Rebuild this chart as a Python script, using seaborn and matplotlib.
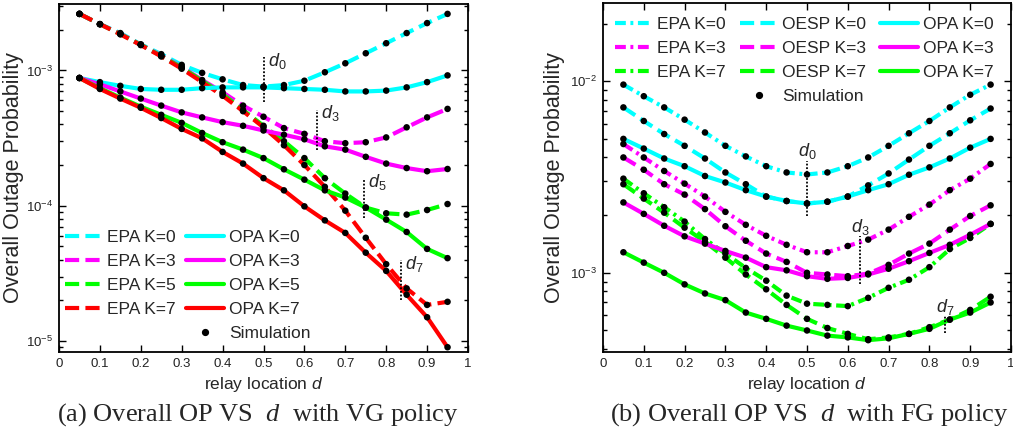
import matplotlib
matplotlib.use("Agg")
import matplotlib.pyplot as plt
from matplotlib.lines import Line2D
from matplotlib.ticker import FixedLocator, NullFormatter
import seaborn as sns

# --- relay locations (x) ---
d_vals = [0.05, 0.10, 0.15, 0.20, 0.25, 0.30, 0.35, 0.40, 0.45, 0.50,
          0.55, 0.60, 0.65, 0.70, 0.75, 0.80, 0.85, 0.90, 0.95]
x_ticks = [0, 0.1, 0.2, 0.3, 0.4, 0.5, 0.6, 0.7, 0.8, 0.9, 1]
x_ticklabels = ["0", "0.1", "0.2", "0.3", "0.4", "0.5", "0.6", "0.7", "0.8", "0.9", "1"]

# --- (a) VG policy ---
vg_epa_k0 = [2.62e-3, 2.20e-3, 1.89e-3, 1.56e-3, 1.32e-3, 1.10e-3, 9.6e-4, 8.6e-4, 7.8e-4, 7.6e-4,
             7.8e-4, 8.4e-4, 9.7e-4, 1.13e-3, 1.34e-3, 1.59e-3, 1.89e-3, 2.24e-3, 2.62e-3]
vg_epa_k3 = [2.62e-3, 2.20e-3, 1.87e-3, 1.55e-3, 1.29e-3, 1.06e-3, 8.5e-4, 6.9e-4, 5.5e-4, 4.55e-4,
             3.75e-4, 3.4e-4, 3.0e-4, 2.9e-4, 2.95e-4, 3.2e-4, 3.8e-4, 4.5e-4, 5.2e-4]
vg_epa_k5 = [2.62e-3, 2.20e-3, 1.86e-3, 1.55e-3, 1.28e-3, 1.05e-3, 8.4e-4, 6.7e-4, 5.1e-4, 3.9e-4,
             3.0e-4, 2.25e-4, 1.6e-4, 1.23e-4, 9.7e-5, 8.8e-5, 8.6e-5, 9.3e-5, 1.03e-4]
vg_epa_k7 = [2.62e-3, 2.20e-3, 1.85e-3, 1.54e-3, 1.27e-3, 1.03e-3, 8.2e-4, 6.5e-4, 5.0e-4, 3.8e-4,
             2.8e-4, 2.0e-4, 1.38e-4, 9.2e-5, 5.8e-5, 3.7e-5, 2.45e-5, 1.85e-5, 1.95e-5]
vg_opa_k0 = [8.8e-4, 8.2e-4, 7.7e-4, 7.3e-4, 7.2e-4, 7.2e-4, 7.4e-4, 7.5e-4, 7.5e-4, 7.5e-4,
             7.4e-4, 7.3e-4, 7.2e-4, 7.0e-4, 7.0e-4, 7.1e-4, 7.5e-4, 8.2e-4, 9.2e-4]
vg_opa_k3 = [8.8e-4, 7.9e-4, 7.0e-4, 6.2e-4, 5.5e-4, 4.9e-4, 4.5e-4, 4.15e-4, 3.9e-4, 3.6e-4,
             3.35e-4, 3.1e-4, 2.75e-4, 2.6e-4, 2.3e-4, 2.05e-4, 1.9e-4, 1.8e-4, 1.87e-4]
vg_opa_k5 = [8.8e-4, 7.4e-4, 6.3e-4, 5.4e-4, 4.7e-4, 4.1e-4, 3.45e-4, 2.95e-4, 2.6e-4, 2.25e-4,
             1.86e-4, 1.56e-4, 1.3e-4, 1.15e-4, 9.7e-5, 7.9e-5, 6.4e-5, 4.8e-5, 4.1e-5]
vg_opa_k7 = [8.8e-4, 7.3e-4, 6.2e-4, 5.3e-4, 4.45e-4, 3.7e-4, 3.15e-4, 2.5e-4, 2.05e-4, 1.6e-4,
             1.3e-4, 9.9e-5, 7.8e-5, 6.3e-5, 4.5e-5, 3.3e-5, 2.2e-5, 1.5e-5, 9.0e-6]
# optimal relay locations d_K and the span of the dotted marker
vg_dopt = [0.50, 0.63, 0.745, 0.836]
vg_dopt_top = [1.25e-3, 5.1e-4, 1.59e-4, 3.95e-5]
vg_dopt_bot = [5.8e-4, 2.57e-4, 8.1e-5, 2.02e-5]
vg_dopt_names = ["0", "3", "5", "7"]

# --- (b) FG policy ---
fg_epa_k0 = [9.6e-3, 8.35e-3, 7.3e-3, 6.3e-3, 5.4e-3, 4.6e-3, 4.05e-3, 3.6e-3, 3.34e-3, 3.26e-3,
             3.34e-3, 3.6e-3, 4.0e-3, 4.6e-3, 5.35e-3, 6.2e-3, 7.3e-3, 8.5e-3, 9.6e-3]
fg_oesp_k0 = [7.3e-3, 6.2e-3, 5.3e-3, 4.6e-3, 3.95e-3, 3.34e-3, 2.9e-3, 2.5e-3, 2.37e-3, 2.3e-3,
              2.35e-3, 2.5e-3, 2.86e-3, 3.3e-3, 3.9e-3, 4.6e-3, 5.35e-3, 6.25e-3, 7.2e-3]
fg_opa_k0 = [5.0e-3, 4.45e-3, 3.95e-3, 3.6e-3, 3.2e-3, 2.96e-3, 2.7e-3, 2.5e-3, 2.37e-3, 2.3e-3,
             2.35e-3, 2.5e-3, 2.7e-3, 2.9e-3, 3.25e-3, 3.55e-3, 3.95e-3, 4.5e-3, 5.0e-3]
fg_epa_k3 = [4.7e-3, 4.0e-3, 3.4e-3, 2.92e-3, 2.5e-3, 2.08e-3, 1.78e-3, 1.56e-3, 1.4e-3, 1.28e-3,
             1.28e-3, 1.38e-3, 1.49e-3, 1.68e-3, 1.96e-3, 2.27e-3, 2.7e-3, 3.1e-3, 3.7e-3]
fg_oesp_k3 = [4.0e-3, 3.45e-3, 2.9e-3, 2.56e-3, 2.15e-3, 1.75e-3, 1.47e-3, 1.26e-3, 1.14e-3, 1.0e-3,
              9.8e-4, 9.6e-4, 9.9e-4, 1.1e-3, 1.26e-3, 1.42e-3, 1.68e-3, 1.98e-3, 2.25e-3]
fg_opa_k3 = [2.33e-3, 2.03e-3, 1.76e-3, 1.55e-3, 1.42e-3, 1.3e-3, 1.2e-3, 1.07e-3, 1.03e-3, 9.6e-4,
             9.3e-4, 9.4e-4, 9.8e-4, 1.05e-3, 1.15e-3, 1.27e-3, 1.4e-3, 1.58e-3, 1.8e-3]
fg_epa_k7 = [3.1e-3, 2.6e-3, 2.2e-3, 1.85e-3, 1.5e-3, 1.26e-3, 1.06e-3, 9.1e-4, 7.6e-4, 6.9e-4,
             6.8e-4, 6.7e-4, 7.4e-4, 8.35e-4, 9.2e-4, 1.07e-3, 1.33e-3, 1.52e-3, 1.8e-3]
fg_oesp_k7 = [2.9e-3, 2.44e-3, 2.06e-3, 1.72e-3, 1.45e-3, 1.2e-3, 9.8e-4, 8.2e-4, 6.8e-4, 5.75e-4,
              5.15e-4, 4.8e-4, 4.5e-4, 4.6e-4, 4.8e-4, 5.2e-4, 5.7e-4, 6.4e-4, 7.5e-4]
fg_opa_k7 = [1.28e-3, 1.13e-3, 1.0e-3, 8.7e-4, 7.8e-4, 7.2e-4, 6.2e-4, 5.75e-4, 5.3e-4, 5.0e-4,
             4.7e-4, 4.6e-4, 4.45e-4, 4.55e-4, 4.8e-4, 5.1e-4, 5.7e-4, 6.2e-4, 7.0e-4]
fg_dopt = [0.50, 0.63, 0.838]
fg_dopt_top = [3.85e-3, 1.56e-3, 5.96e-4]
fg_dopt_bot = [1.99e-3, 8.75e-4, 4.85e-4]
fg_dopt_names = ["0", "3", "7"]

# --- style ---
sns.set_style("ticks")
plt.rcParams['font.family'] = ['Liberation Sans', 'DejaVu Sans']
plt.rcParams['mathtext.fontset'] = 'custom'
plt.rcParams['mathtext.rm'] = 'Liberation Sans'
plt.rcParams['mathtext.it'] = 'Liberation Sans:italic'
plt.rcParams['mathtext.cal'] = 'Liberation Serif:italic'

CYAN, MAGENTA, GREEN, RED = '#00FFFF', '#FF00FF', '#00FF00', '#FF0000'
DASH = (0, (3.4, 1.5))
DASHDOT = (0, (2.6, 1.1, 0.7, 1.1))
SOLID = '-'
LW = 3


def draw_curve(ax, y, color, ls):
    sns.lineplot(x=d_vals, y=y, ax=ax, color=color, lw=LW, linestyle=ls, zorder=2)
    sns.scatterplot(x=d_vals, y=y, ax=ax, color='k', s=22, edgecolor='none', zorder=4)


def handle(color, ls):
    return Line2D([], [], color=color, lw=LW, linestyle=ls)


sim_handle = Line2D([], [], color='k', marker='o', markersize=4.2, linestyle='none')
blank = Line2D([], [], color='none')

fig = plt.figure(figsize=(10.13, 4.34), dpi=100)
ax1 = fig.add_axes([59 / 1013, 82 / 434, 409 / 1013, 348 / 434])
ax2 = fig.add_axes([603 / 1013, 82 / 434, 408 / 1013, 349 / 434])

# (a)
for y, c in [(vg_epa_k0, CYAN), (vg_epa_k3, MAGENTA), (vg_epa_k5, GREEN), (vg_epa_k7, RED)]:
    draw_curve(ax1, y, c, DASH)
for y, c in [(vg_opa_k0, CYAN), (vg_opa_k3, MAGENTA), (vg_opa_k5, GREEN), (vg_opa_k7, RED)]:
    draw_curve(ax1, y, c, SOLID)

# (b)
for y, c in [(fg_epa_k0, CYAN), (fg_epa_k3, MAGENTA), (fg_epa_k7, GREEN)]:
    draw_curve(ax2, y, c, DASHDOT)
for y, c in [(fg_oesp_k0, CYAN), (fg_oesp_k3, MAGENTA), (fg_oesp_k7, GREEN)]:
    draw_curve(ax2, y, c, DASH)
for y, c in [(fg_opa_k0, CYAN), (fg_opa_k3, MAGENTA), (fg_opa_k7, GREEN)]:
    draw_curve(ax2, y, c, SOLID)

for ax in (ax1, ax2):
    ax.set_yscale('log')
    ax.set_xlim(0, 1)
    ax.xaxis.set_major_locator(FixedLocator(x_ticks))
    ax.set_xticklabels(x_ticklabels)
    ax.yaxis.set_minor_formatter(NullFormatter())
    ax.tick_params(which='both', direction='in', top=True, right=True, labelsize=9.5,
                   width=1, color='k', labelcolor='#222222')
    ax.tick_params(which='major', length=5, pad=4)
    ax.tick_params(which='minor', length=3)
    for s in ax.spines.values():
        s.set_linewidth(1.3)
        s.set_color('k')
    ax.set_xlabel("relay location $\\mathit{d}$", fontsize=12.5)
    ax.set_ylabel("Overall Outage Probability", fontsize=15.5)

ax1.set_ylim(8.3e-6, 3.1e-3)
ax2.set_ylim(3.86e-4, 2.56e-2)
ax1.xaxis.set_label_coords(0.5, -0.065)
ax2.xaxis.set_label_coords(0.5, -0.065)
ax1.yaxis.set_label_coords(-0.085, 0.5)
ax2.yaxis.set_label_coords(-0.092, 0.5)

# optimal-location markers
for x, yt, yb, k in zip(vg_dopt, vg_dopt_top, vg_dopt_bot, vg_dopt_names):
    ax1.plot([x, x], [yb, yt], color='k', lw=1.3, linestyle=(0, (1, 1)), zorder=5)
    ax1.annotate("$\\mathit{d}_{\\mathit{%s}}$" % k, xy=(x, yt), xytext=(3, -6),
                 textcoords='offset points', ha='left', va='baseline', fontsize=13)
for x, yt, yb, k in zip(fg_dopt, fg_dopt_top, fg_dopt_bot, fg_dopt_names):
    ax2.plot([x, x], [yb, yt], color='k', lw=1.3, linestyle=(0, (1, 1)), zorder=5)
    ax2.annotate("$\\mathit{d}_{\\mathit{%s}}$" % k, xy=(x, yt), xytext=(0, 3),
                 textcoords='offset points', ha='center', va='baseline', fontsize=13)

# legends
leg1_handles = [handle(CYAN, DASH), handle(MAGENTA, DASH), handle(GREEN, DASH), handle(RED, DASH), blank,
                handle(CYAN, SOLID), handle(MAGENTA, SOLID), handle(GREEN, SOLID), handle(RED, SOLID),
                sim_handle]
leg1_labels = ["EPA K=0", "EPA K=3", "EPA K=5", "EPA K=7", "",
               "OPA K=0", "OPA K=3", "OPA K=5", "OPA K=7", "Simulation"]
ax1.legend(leg1_handles, leg1_labels, ncol=2, loc='upper left', bbox_to_anchor=(0.005, 0.36),
           frameon=False, fontsize=12.5, handlelength=2.2, handletextpad=0.25,
           columnspacing=0.6, labelspacing=0.5, borderaxespad=0, borderpad=0.2)

leg2_handles = [handle(CYAN, DASHDOT), handle(MAGENTA, DASHDOT), handle(GREEN, DASHDOT), blank,
                handle(CYAN, DASH), handle(MAGENTA, DASH), handle(GREEN, DASH), sim_handle,
                handle(CYAN, SOLID), handle(MAGENTA, SOLID), handle(GREEN, SOLID), blank]
leg2_labels = ["EPA K=0", "EPA K=3", "EPA K=7", "",
               "OESP K=0", "OESP K=3", "OESP K=7", "Simulation",
               "OPA K=0", "OPA K=3", "OPA K=7", ""]
ax2.legend(leg2_handles, leg2_labels, ncol=3, loc='upper left', bbox_to_anchor=(0.02, 0.97),
           frameon=False, fontsize=12.5, handlelength=2.2, handletextpad=0.25,
           columnspacing=0.8, labelspacing=0.5, borderaxespad=0, borderpad=0.2)

# captions
fig.text(258 / 1013, 1 - 421 / 434, "(a) Overall OP VS  $\\mathcal{d}$  with VG policy",
         ha='center', va='baseline', family='Liberation Serif', fontsize=19)
fig.text(809 / 1013, 1 - 421 / 434, "(b) Overall OP VS  $\\mathcal{d}$  with FG policy",
         ha='center', va='baseline', family='Liberation Serif', fontsize=19)

fig.savefig("out.png", dpi=100)
